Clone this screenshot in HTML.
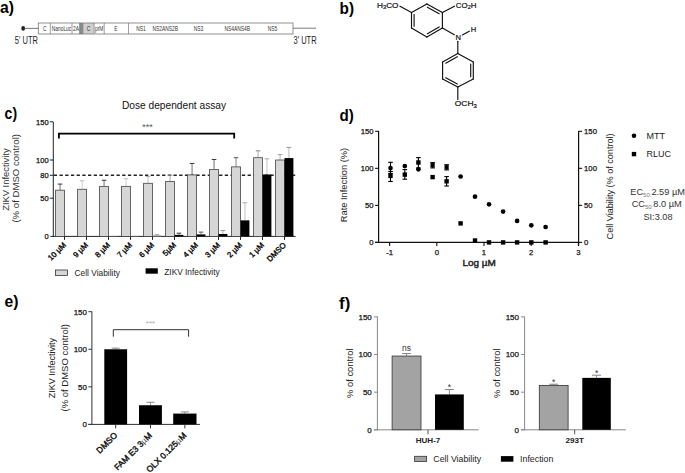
<!DOCTYPE html>
<html><head><meta charset="utf-8"><title>Figure</title>
<style>
html,body{margin:0;padding:0;background:#fff;}
body{width:685px;height:473px;overflow:hidden;font-family:"Liberation Sans",sans-serif;}
svg{display:block;}
svg text{font-family:"Liberation Sans",sans-serif;}
</style></head><body>
<svg width="685" height="473" viewBox="0 0 685 473">
<rect x="0" y="0" width="685" height="473" fill="#fff"/>
<text x="0" y="13.2" font-size="17" font-weight="bold" fill="#000" textLength="14" lengthAdjust="spacingAndGlyphs">a)</text>
<text x="339.6" y="13.6" font-size="17" font-weight="bold" fill="#000" textLength="14.5" lengthAdjust="spacingAndGlyphs">b)</text>
<text x="4.6" y="119.4" font-size="17" font-weight="bold" fill="#000" textLength="12.5" lengthAdjust="spacingAndGlyphs">c)</text>
<text x="339.5" y="121" font-size="17" font-weight="bold" fill="#000" textLength="14.3" lengthAdjust="spacingAndGlyphs">d)</text>
<text x="4.4" y="306.6" font-size="17" font-weight="bold" fill="#000" textLength="14" lengthAdjust="spacingAndGlyphs">e)</text>
<text x="339.1" y="308.6" font-size="17" font-weight="bold" fill="#000" textLength="11.2" lengthAdjust="spacingAndGlyphs">f)</text>
<g id="pa">
<ellipse cx="23.2" cy="28.4" rx="1.9" ry="2.4" fill="#222"/>
<line x1="24" y1="28.4" x2="38.3" y2="28.4" stroke="#555" stroke-width="0.8" />
<line x1="293" y1="28.2" x2="316" y2="28.2" stroke="#555" stroke-width="0.8" />
<rect x="79.60" y="23.00" width="3.30" height="11.00" fill="#8a8a8a" stroke="none" stroke-width="1"/>
<rect x="82.90" y="23.00" width="11.20" height="11.00" fill="#d0d0d0" stroke="none" stroke-width="1"/>
<rect x="38.30" y="23.00" width="254.70" height="11.00" fill="none" stroke="#777" stroke-width="0.8"/>
<line x1="50.3" y1="23" x2="50.3" y2="34" stroke="#777" stroke-width="0.7" />
<line x1="72" y1="23" x2="72" y2="34" stroke="#777" stroke-width="0.7" />
<line x1="79.6" y1="23" x2="79.6" y2="34" stroke="#777" stroke-width="0.7" />
<line x1="82.9" y1="23" x2="82.9" y2="34" stroke="#777" stroke-width="0.7" />
<line x1="94.1" y1="23" x2="94.1" y2="34" stroke="#777" stroke-width="0.7" />
<line x1="104.2" y1="23" x2="104.2" y2="34" stroke="#777" stroke-width="0.7" />
<line x1="128.5" y1="23" x2="128.5" y2="34" stroke="#777" stroke-width="0.7" />
<text transform="translate(44.7,31.4) scale(0.7,1)" font-size="7" text-anchor="middle" fill="#333">C</text>
<text transform="translate(61.5,31.4) scale(0.7,1)" font-size="7" text-anchor="middle" fill="#333">NanoLuc</text>
<text transform="translate(75.9,31.4) scale(0.7,1)" font-size="7" text-anchor="middle" fill="#333">2A</text>
<text transform="translate(88.4,31.4) scale(0.7,1)" font-size="7" text-anchor="middle" fill="#333">C</text>
<text transform="translate(99.2,31.4) scale(0.7,1)" font-size="7" text-anchor="middle" fill="#333">prM</text>
<text transform="translate(116,31.4) scale(0.7,1)" font-size="7" text-anchor="middle" fill="#333">E</text>
<text transform="translate(141,31.4) scale(0.7,1)" font-size="7" text-anchor="middle" fill="#333">NS1</text>
<text transform="translate(165.3,31.4) scale(0.7,1)" font-size="7" text-anchor="middle" fill="#333">NS2ANS2B</text>
<text transform="translate(198.4,31.4) scale(0.7,1)" font-size="7" text-anchor="middle" fill="#333">NS3</text>
<text transform="translate(237.2,31.4) scale(0.7,1)" font-size="7" text-anchor="middle" fill="#333">NS4ANS4B</text>
<text transform="translate(272.5,31.4) scale(0.7,1)" font-size="7" text-anchor="middle" fill="#333">NS5</text>
<text transform="translate(26.4,44) scale(0.75,1)" font-size="10" text-anchor="middle" fill="#222">5' UTR</text>
<text transform="translate(305,44) scale(0.75,1)" font-size="10" text-anchor="middle" fill="#222">3' UTR</text>
</g>
<g id="pb" stroke="#111" stroke-width="1.15" fill="none" stroke-linecap="round">
<line x1="426.90" y1="3.90" x2="442.40" y2="12.60"/>
<line x1="427.36" y1="7.14" x2="439.14" y2="13.75"/>
<line x1="442.40" y1="12.60" x2="442.40" y2="28.00"/>
<line x1="442.40" y1="28.00" x2="426.90" y2="37.10"/>
<line x1="439.15" y1="26.90" x2="427.37" y2="33.81"/>
<line x1="426.90" y1="37.10" x2="411.50" y2="28.00"/>
<line x1="411.50" y1="28.00" x2="411.50" y2="12.60"/>
<line x1="414.10" y1="26.16" x2="414.10" y2="14.46"/>
<line x1="411.50" y1="12.60" x2="426.90" y2="3.90"/>
<line x1="457.80" y1="53.40" x2="473.30" y2="62.00"/>
<line x1="473.30" y1="62.00" x2="473.30" y2="78.90"/>
<line x1="470.70" y1="64.02" x2="470.70" y2="76.86"/>
<line x1="473.30" y1="78.90" x2="457.80" y2="87.10"/>
<line x1="457.80" y1="87.10" x2="442.60" y2="78.90"/>
<line x1="457.33" y1="83.90" x2="445.78" y2="77.66"/>
<line x1="442.60" y1="78.90" x2="442.60" y2="62.00"/>
<line x1="442.60" y1="62.00" x2="457.80" y2="53.40"/>
<line x1="445.77" y1="63.19" x2="457.33" y2="56.65"/>
<line x1="411.5" y1="12.6" x2="400" y2="6.2"/>
<line x1="442.4" y1="12.6" x2="454.5" y2="6.2"/>
<line x1="442.4" y1="28" x2="454.3" y2="34.8"/>
<line x1="462.3" y1="35" x2="469.3" y2="31.2"/>
<line x1="457.8" y1="41.3" x2="457.8" y2="53.4"/>
<line x1="457.8" y1="87.1" x2="457.8" y2="99.5"/>
</g>
<g id="pbt" fill="#111" stroke="#111" stroke-width="0.2">
<text x="377" y="7.9" font-size="7.6" textLength="21.5" lengthAdjust="spacingAndGlyphs">H<tspan font-size="5.4" dy="1.3">3</tspan><tspan dy="-1.3">CO</tspan></text>
<text x="455.8" y="7.6" font-size="7.6" textLength="20.7" lengthAdjust="spacingAndGlyphs">CO<tspan font-size="5.4" dy="1.3">2</tspan><tspan dy="-1.3">H</tspan></text>
<text x="458.3" y="40.2" font-size="7.6" text-anchor="middle">N</text>
<text x="473.4" y="31.6" font-size="7.6" text-anchor="middle">H</text>
<text x="454.8" y="106.4" font-size="7.6" textLength="22" lengthAdjust="spacingAndGlyphs">OCH<tspan font-size="5.4" dy="1.3">3</tspan></text>
</g>
<g id="pc">
<text x="174" y="109.2" font-size="10.2" text-anchor="middle" font-weight="normal" fill="#111" >Dose dependent assay</text>
<line x1="53.3" y1="122" x2="53.3" y2="236.9" stroke="#222" stroke-width="1" />
<line x1="50.3" y1="236.4" x2="295.6" y2="236.4" stroke="#222" stroke-width="1" />
<line x1="49.8" y1="121.8" x2="53.3" y2="121.8" stroke="#222" stroke-width="1" />
<text x="48.599999999999994" y="124.5" font-size="7.5" text-anchor="end" font-weight="normal" fill="#111" stroke="#111" stroke-width="0.25">150</text>
<line x1="49.8" y1="160.0" x2="53.3" y2="160.0" stroke="#222" stroke-width="1" />
<text x="48.599999999999994" y="162.7" font-size="7.5" text-anchor="end" font-weight="normal" fill="#111" stroke="#111" stroke-width="0.25">100</text>
<line x1="49.8" y1="175.28" x2="53.3" y2="175.28" stroke="#222" stroke-width="1" />
<text x="48.599999999999994" y="177.98" font-size="7.5" text-anchor="end" font-weight="normal" fill="#111" stroke="#111" stroke-width="0.25">80</text>
<line x1="49.8" y1="198.2" x2="53.3" y2="198.2" stroke="#222" stroke-width="1" />
<text x="48.599999999999994" y="200.89999999999998" font-size="7.5" text-anchor="end" font-weight="normal" fill="#111" stroke="#111" stroke-width="0.25">50</text>
<text x="48.599999999999994" y="239.1" font-size="7.5" text-anchor="end" font-weight="normal" fill="#111" stroke="#111" stroke-width="0.25">0</text>
<line x1="53.8" y1="175.28" x2="295.2" y2="175.28" stroke="#222" stroke-width="1.4" stroke-dasharray="3.3 2.4"/>
<line x1="60.05" y1="190.178" x2="60.05" y2="184.066" stroke="#333" stroke-width="0.7" />
<line x1="57.75" y1="184.066" x2="62.349999999999994" y2="184.066" stroke="#333" stroke-width="1" />
<rect x="55.60" y="190.18" width="8.90" height="46.22" fill="#d6d6d6" stroke="#444" stroke-width="0.8"/>
<line x1="64.5" y1="236.4" x2="64.5" y2="239.9" stroke="#222" stroke-width="1" />
<text transform="translate(66.5,245.6) rotate(-45)" font-size="7.8" text-anchor="end" fill="#111" stroke="#111" stroke-width="0.4">10 µM</text>
<line x1="82.05" y1="189.2612" x2="82.05" y2="180.8572" stroke="#bbb" stroke-width="0.7" />
<line x1="79.75" y1="180.8572" x2="84.35" y2="180.8572" stroke="#bbb" stroke-width="1" />
<rect x="77.60" y="189.26" width="8.90" height="47.14" fill="#d6d6d6" stroke="#444" stroke-width="0.8"/>
<line x1="86.5" y1="236.4" x2="86.5" y2="239.9" stroke="#222" stroke-width="1" />
<text transform="translate(88.5,245.6) rotate(-45)" font-size="7.8" text-anchor="end" fill="#111" stroke="#111" stroke-width="0.4">9 µM</text>
<line x1="104.05" y1="186.358" x2="104.05" y2="180.246" stroke="#333" stroke-width="0.7" />
<line x1="101.75" y1="180.246" x2="106.35" y2="180.246" stroke="#333" stroke-width="1" />
<rect x="99.60" y="186.36" width="8.90" height="50.04" fill="#d6d6d6" stroke="#444" stroke-width="0.8"/>
<rect x="108.50" y="236.09" width="8.90" height="0.31" fill="#999" stroke="none" stroke-width="1"/>
<line x1="108.5" y1="236.4" x2="108.5" y2="239.9" stroke="#222" stroke-width="1" />
<text transform="translate(110.5,245.6) rotate(-45)" font-size="7.8" text-anchor="end" fill="#111" stroke="#111" stroke-width="0.4">8 µM</text>
<line x1="126.05" y1="186.358" x2="126.05" y2="178.71800000000002" stroke="#bbb" stroke-width="0.7" />
<line x1="123.75" y1="178.71800000000002" x2="128.35" y2="178.71800000000002" stroke="#bbb" stroke-width="1" />
<rect x="121.60" y="186.36" width="8.90" height="50.04" fill="#d6d6d6" stroke="#444" stroke-width="0.8"/>
<rect x="130.50" y="236.09" width="8.90" height="0.31" fill="#999" stroke="none" stroke-width="1"/>
<line x1="130.5" y1="236.4" x2="130.5" y2="239.9" stroke="#222" stroke-width="1" />
<text transform="translate(132.5,245.6) rotate(-45)" font-size="7.8" text-anchor="end" fill="#111" stroke="#111" stroke-width="0.4">7 µM</text>
<line x1="148.05" y1="183.30200000000002" x2="148.05" y2="176.426" stroke="#aaa" stroke-width="0.7" />
<line x1="145.75" y1="176.426" x2="150.35000000000002" y2="176.426" stroke="#aaa" stroke-width="1" />
<line x1="156.95" y1="235.4832" x2="156.95" y2="234.56640000000002" stroke="#aaa" stroke-width="0.7" />
<line x1="154.64999999999998" y1="234.56640000000002" x2="159.25" y2="234.56640000000002" stroke="#aaa" stroke-width="1" />
<rect x="143.60" y="183.30" width="8.90" height="53.10" fill="#d6d6d6" stroke="#444" stroke-width="0.8"/>
<rect x="152.50" y="235.48" width="8.90" height="0.92" fill="#999" stroke="none" stroke-width="1"/>
<line x1="152.5" y1="236.4" x2="152.5" y2="239.9" stroke="#222" stroke-width="1" />
<text transform="translate(154.5,245.6) rotate(-45)" font-size="7.8" text-anchor="end" fill="#111" stroke="#111" stroke-width="0.4">6 µM</text>
<line x1="170.05" y1="181.392" x2="170.05" y2="175.28" stroke="#888" stroke-width="0.7" />
<line x1="167.75" y1="175.28" x2="172.35000000000002" y2="175.28" stroke="#888" stroke-width="1" />
<line x1="178.95" y1="234.872" x2="178.95" y2="233.1912" stroke="#333" stroke-width="0.7" />
<line x1="176.64999999999998" y1="233.1912" x2="181.25" y2="233.1912" stroke="#333" stroke-width="1" />
<rect x="165.60" y="181.39" width="8.90" height="55.01" fill="#d6d6d6" stroke="#444" stroke-width="0.8"/>
<rect x="174.50" y="234.87" width="8.90" height="1.53" fill="#000" stroke="none" stroke-width="1"/>
<line x1="174.5" y1="236.4" x2="174.5" y2="239.9" stroke="#222" stroke-width="1" />
<text transform="translate(176.5,245.6) rotate(-45)" font-size="7.8" text-anchor="end" fill="#111" stroke="#111" stroke-width="0.4">5µM</text>
<line x1="192.05" y1="174.898" x2="192.05" y2="163.438" stroke="#333" stroke-width="0.7" />
<line x1="189.75" y1="163.438" x2="194.35000000000002" y2="163.438" stroke="#333" stroke-width="1" />
<line x1="200.95" y1="234.4136" x2="200.95" y2="232.1216" stroke="#555" stroke-width="0.7" />
<line x1="198.64999999999998" y1="232.1216" x2="203.25" y2="232.1216" stroke="#555" stroke-width="1" />
<rect x="187.60" y="174.90" width="8.90" height="61.50" fill="#d6d6d6" stroke="#444" stroke-width="0.8"/>
<rect x="196.50" y="234.41" width="8.90" height="1.99" fill="#000" stroke="none" stroke-width="1"/>
<line x1="196.5" y1="236.4" x2="196.5" y2="239.9" stroke="#222" stroke-width="1" />
<text transform="translate(198.5,245.6) rotate(-45)" font-size="7.8" text-anchor="end" fill="#111" stroke="#111" stroke-width="0.4">4 µM</text>
<line x1="214.05" y1="169.3972" x2="214.05" y2="159.46519999999998" stroke="#333" stroke-width="0.7" />
<line x1="211.75" y1="159.46519999999998" x2="216.35000000000002" y2="159.46519999999998" stroke="#333" stroke-width="1" />
<line x1="222.95" y1="233.95520000000002" x2="222.95" y2="230.5172" stroke="#999" stroke-width="0.7" />
<line x1="220.64999999999998" y1="230.5172" x2="225.25" y2="230.5172" stroke="#999" stroke-width="1" />
<rect x="209.60" y="169.40" width="8.90" height="67.00" fill="#d6d6d6" stroke="#444" stroke-width="0.8"/>
<rect x="218.50" y="233.96" width="8.90" height="2.44" fill="#000" stroke="none" stroke-width="1"/>
<line x1="218.5" y1="236.4" x2="218.5" y2="239.9" stroke="#222" stroke-width="1" />
<text transform="translate(220.5,245.6) rotate(-45)" font-size="7.8" text-anchor="end" fill="#111" stroke="#111" stroke-width="0.4">3 µM</text>
<line x1="236.05" y1="166.876" x2="236.05" y2="157.708" stroke="#555" stroke-width="0.7" />
<line x1="233.75" y1="157.708" x2="238.35000000000002" y2="157.708" stroke="#555" stroke-width="1" />
<line x1="244.95" y1="220.356" x2="244.95" y2="202.784" stroke="#aaa" stroke-width="0.7" />
<line x1="242.64999999999998" y1="202.784" x2="247.25" y2="202.784" stroke="#aaa" stroke-width="1" />
<rect x="231.60" y="166.88" width="8.90" height="69.52" fill="#d6d6d6" stroke="#444" stroke-width="0.8"/>
<rect x="240.50" y="220.36" width="8.90" height="16.04" fill="#000" stroke="none" stroke-width="1"/>
<line x1="240.5" y1="236.4" x2="240.5" y2="239.9" stroke="#222" stroke-width="1" />
<text transform="translate(242.5,245.6) rotate(-45)" font-size="7.8" text-anchor="end" fill="#111" stroke="#111" stroke-width="0.4">2 µM</text>
<line x1="258.05" y1="157.708" x2="258.05" y2="150.832" stroke="#888" stroke-width="0.7" />
<line x1="255.75" y1="150.832" x2="260.35" y2="150.832" stroke="#888" stroke-width="1" />
<line x1="266.95" y1="174.51600000000002" x2="266.95" y2="158.85399999999998" stroke="#aaa" stroke-width="0.7" />
<line x1="264.65" y1="158.85399999999998" x2="269.25" y2="158.85399999999998" stroke="#aaa" stroke-width="1" />
<rect x="253.60" y="157.71" width="8.90" height="78.69" fill="#d6d6d6" stroke="#444" stroke-width="0.8"/>
<rect x="262.50" y="174.52" width="8.90" height="61.88" fill="#000" stroke="none" stroke-width="1"/>
<line x1="262.5" y1="236.4" x2="262.5" y2="239.9" stroke="#222" stroke-width="1" />
<text transform="translate(264.5,245.6) rotate(-45)" font-size="7.8" text-anchor="end" fill="#111" stroke="#111" stroke-width="0.4">1 µM</text>
<line x1="280.05" y1="160.0" x2="280.05" y2="154.652" stroke="#999" stroke-width="0.7" />
<line x1="277.75" y1="154.652" x2="282.35" y2="154.652" stroke="#999" stroke-width="1" />
<line x1="288.95" y1="158.09" x2="288.95" y2="147.394" stroke="#999" stroke-width="0.7" />
<line x1="286.65" y1="147.394" x2="291.25" y2="147.394" stroke="#999" stroke-width="1" />
<rect x="275.60" y="160.00" width="8.90" height="76.40" fill="#d6d6d6" stroke="#444" stroke-width="0.8"/>
<rect x="284.50" y="158.09" width="8.90" height="78.31" fill="#000" stroke="none" stroke-width="1"/>
<line x1="284.5" y1="236.4" x2="284.5" y2="239.9" stroke="#222" stroke-width="1" />
<text transform="translate(286.5,245.6) rotate(-45)" font-size="7.8" text-anchor="end" fill="#111" stroke="#111" stroke-width="0.4">DMSO</text>
<path d="M58.9 138.4 V133.6 H234.2 V138.4" fill="none" stroke="#000" stroke-width="1.8"/>
<text x="147.6" y="130.2" font-size="9" text-anchor="middle" font-weight="normal" fill="#555" >***</text>
<rect x="55.50" y="270.00" width="12.00" height="5.40" fill="#d6d6d6" stroke="#333" stroke-width="0.8"/>
<text x="74.6" y="275.5" font-size="8.35" text-anchor="start" font-weight="normal" fill="#222" >Cell Viability</text>
<rect x="145.60" y="268.30" width="12.20" height="5.40" fill="#000" stroke="none" stroke-width="1"/>
<text x="164.3" y="275.2" font-size="8.3" text-anchor="start" font-weight="normal" fill="#222" >ZIKV Infectivity</text>
<text transform="translate(8.8,210.8) rotate(-90)" font-size="8.8" textLength="62.4" lengthAdjust="spacingAndGlyphs" fill="#333">ZIKV Infectivity</text>
<text transform="translate(19.2,222.6) rotate(-90)" font-size="8.8" textLength="88.6" lengthAdjust="spacingAndGlyphs" fill="#333">(% of DMSO control)</text>
</g>
<g id="pd">
<line x1="378.6" y1="131" x2="378.6" y2="242.9" stroke="#111" stroke-width="1.2" />
<line x1="578.6" y1="131" x2="578.6" y2="245.9" stroke="#111" stroke-width="1.2" />
<line x1="375.1" y1="242.4" x2="578.6" y2="242.4" stroke="#111" stroke-width="1.2" />
<line x1="375.1" y1="131.3" x2="378.6" y2="131.3" stroke="#111" stroke-width="1.1" />
<line x1="578.6" y1="131.3" x2="582.1" y2="131.3" stroke="#111" stroke-width="1.1" />
<text x="373.6" y="134.05" font-size="7.7" text-anchor="end" font-weight="normal" fill="#111" stroke="#111" stroke-width="0.25">150</text>
<text x="584.1" y="134.05" font-size="7.7" text-anchor="start" font-weight="normal" fill="#111" stroke="#111" stroke-width="0.25">150</text>
<line x1="375.1" y1="168.33333333333334" x2="378.6" y2="168.33333333333334" stroke="#111" stroke-width="1.1" />
<line x1="578.6" y1="168.33333333333334" x2="582.1" y2="168.33333333333334" stroke="#111" stroke-width="1.1" />
<text x="373.6" y="171.08333333333334" font-size="7.7" text-anchor="end" font-weight="normal" fill="#111" stroke="#111" stroke-width="0.25">100</text>
<text x="584.1" y="171.08333333333334" font-size="7.7" text-anchor="start" font-weight="normal" fill="#111" stroke="#111" stroke-width="0.25">100</text>
<line x1="375.1" y1="205.36666666666667" x2="378.6" y2="205.36666666666667" stroke="#111" stroke-width="1.1" />
<line x1="578.6" y1="205.36666666666667" x2="582.1" y2="205.36666666666667" stroke="#111" stroke-width="1.1" />
<text x="373.6" y="208.11666666666667" font-size="7.7" text-anchor="end" font-weight="normal" fill="#111" stroke="#111" stroke-width="0.25">50</text>
<text x="584.1" y="208.11666666666667" font-size="7.7" text-anchor="start" font-weight="normal" fill="#111" stroke="#111" stroke-width="0.25">50</text>
<line x1="375.1" y1="242.4" x2="378.6" y2="242.4" stroke="#111" stroke-width="1.1" />
<line x1="578.6" y1="242.4" x2="582.1" y2="242.4" stroke="#111" stroke-width="1.1" />
<text x="373.6" y="245.15" font-size="7.7" text-anchor="end" font-weight="normal" fill="#111" stroke="#111" stroke-width="0.25">0</text>
<text x="584.1" y="245.15" font-size="7.7" text-anchor="start" font-weight="normal" fill="#111" stroke="#111" stroke-width="0.25">0</text>
<line x1="389.6" y1="242.4" x2="389.6" y2="245.9" stroke="#111" stroke-width="1.1" />
<text x="389.6" y="254.70000000000002" font-size="7.7" text-anchor="middle" font-weight="normal" fill="#111" stroke="#111" stroke-width="0.25">-1</text>
<line x1="436.8" y1="242.4" x2="436.8" y2="245.9" stroke="#111" stroke-width="1.1" />
<text x="436.8" y="254.70000000000002" font-size="7.7" text-anchor="middle" font-weight="normal" fill="#111" stroke="#111" stroke-width="0.25">0</text>
<line x1="484.0" y1="242.4" x2="484.0" y2="245.9" stroke="#111" stroke-width="1.1" />
<text x="484.0" y="254.70000000000002" font-size="7.7" text-anchor="middle" font-weight="normal" fill="#111" stroke="#111" stroke-width="0.25">1</text>
<line x1="531.2" y1="242.4" x2="531.2" y2="245.9" stroke="#111" stroke-width="1.1" />
<text x="531.2" y="254.70000000000002" font-size="7.7" text-anchor="middle" font-weight="normal" fill="#111" stroke="#111" stroke-width="0.25">2</text>
<line x1="578.4000000000001" y1="242.4" x2="578.4000000000001" y2="245.9" stroke="#111" stroke-width="1.1" />
<text x="578.4000000000001" y="254.70000000000002" font-size="7.7" text-anchor="middle" font-weight="normal" fill="#111" stroke="#111" stroke-width="0.25">3</text>
<text x="462.4" y="266.4" font-size="8.8" textLength="33.4" lengthAdjust="spacingAndGlyphs" fill="#222" stroke="#222" stroke-width="0.4">Log µM</text>
<text transform="translate(347.2,222.2) rotate(-90)" font-size="8.8" textLength="74.4" lengthAdjust="spacingAndGlyphs" fill="#222">Rate Infection (%)</text>
<text transform="translate(613.3,239.4) rotate(-90)" font-size="8.8" textLength="106" lengthAdjust="spacingAndGlyphs" fill="#222">Cell Viability (% of control)</text>
<line x1="390.5" y1="162.3" x2="390.5" y2="173.5" stroke="#000" stroke-width="1.1" />
<line x1="388.2" y1="162.3" x2="392.8" y2="162.3" stroke="#000" stroke-width="1.1" />
<line x1="388.2" y1="173.5" x2="392.8" y2="173.5" stroke="#000" stroke-width="1.1" />
<line x1="390.5" y1="171.5" x2="390.5" y2="181.5" stroke="#000" stroke-width="1.1" />
<line x1="388.2" y1="171.5" x2="392.8" y2="171.5" stroke="#000" stroke-width="1.1" />
<line x1="388.2" y1="181.5" x2="392.8" y2="181.5" stroke="#000" stroke-width="1.1" />
<line x1="404.8" y1="169.6" x2="404.8" y2="179.2" stroke="#000" stroke-width="1.1" />
<line x1="402.5" y1="169.6" x2="407.1" y2="169.6" stroke="#000" stroke-width="1.1" />
<line x1="402.5" y1="179.2" x2="407.1" y2="179.2" stroke="#000" stroke-width="1.1" />
<line x1="418.4" y1="157.6" x2="418.4" y2="168" stroke="#000" stroke-width="1.1" />
<line x1="416.09999999999997" y1="157.6" x2="420.7" y2="157.6" stroke="#000" stroke-width="1.1" />
<line x1="416.09999999999997" y1="168" x2="420.7" y2="168" stroke="#000" stroke-width="1.1" />
<line x1="432.6" y1="162.6" x2="432.6" y2="167.9" stroke="#000" stroke-width="1.1" />
<line x1="430.3" y1="162.6" x2="434.90000000000003" y2="162.6" stroke="#000" stroke-width="1.1" />
<line x1="430.3" y1="167.9" x2="434.90000000000003" y2="167.9" stroke="#000" stroke-width="1.1" />
<line x1="446.6" y1="164.7" x2="446.6" y2="169.9" stroke="#000" stroke-width="1.1" />
<line x1="444.3" y1="164.7" x2="448.90000000000003" y2="164.7" stroke="#000" stroke-width="1.1" />
<line x1="444.3" y1="169.9" x2="448.90000000000003" y2="169.9" stroke="#000" stroke-width="1.1" />
<line x1="446.6" y1="176.6" x2="446.6" y2="186" stroke="#000" stroke-width="1.1" />
<line x1="444.3" y1="176.6" x2="448.90000000000003" y2="176.6" stroke="#000" stroke-width="1.1" />
<line x1="444.3" y1="186" x2="448.90000000000003" y2="186" stroke="#000" stroke-width="1.1" />
<circle cx="390.5" cy="168.1" r="2.35" fill="#000"/>
<rect x="388.30" y="173.70" width="4.40" height="4.40" fill="#000" stroke="none" stroke-width="1"/>
<circle cx="404.8" cy="166.1" r="2.35" fill="#000"/>
<rect x="402.60" y="172.40" width="4.40" height="4.40" fill="#000" stroke="none" stroke-width="1"/>
<circle cx="418.4" cy="169.3" r="2.35" fill="#000"/>
<rect x="416.20" y="160.30" width="4.40" height="4.40" fill="#000" stroke="none" stroke-width="1"/>
<rect x="430.50" y="163.10" width="4.20" height="4.20" fill="#000" stroke="none" stroke-width="1"/>
<rect x="430.40" y="174.90" width="4.40" height="4.40" fill="#000" stroke="none" stroke-width="1"/>
<rect x="444.50" y="165.20" width="4.20" height="4.20" fill="#000" stroke="none" stroke-width="1"/>
<rect x="444.40" y="179.10" width="4.40" height="4.40" fill="#000" stroke="none" stroke-width="1"/>
<circle cx="460.6" cy="176.5" r="2.35" fill="#000"/>
<rect x="458.40" y="221.20" width="4.40" height="4.40" fill="#000" stroke="none" stroke-width="1"/>
<circle cx="475" cy="196.7" r="2.35" fill="#000"/>
<rect x="472.80" y="238.30" width="4.40" height="4.40" fill="#000" stroke="none" stroke-width="1"/>
<circle cx="489" cy="204.3" r="2.35" fill="#000"/>
<rect x="486.80" y="240.20" width="4.40" height="4.40" fill="#000" stroke="none" stroke-width="1"/>
<circle cx="503.1" cy="211.6" r="2.35" fill="#000"/>
<rect x="500.90" y="240.20" width="4.40" height="4.40" fill="#000" stroke="none" stroke-width="1"/>
<circle cx="517.1" cy="220.9" r="2.35" fill="#000"/>
<rect x="514.90" y="240.20" width="4.40" height="4.40" fill="#000" stroke="none" stroke-width="1"/>
<circle cx="531.3" cy="225.3" r="2.35" fill="#000"/>
<rect x="529.10" y="240.20" width="4.40" height="4.40" fill="#000" stroke="none" stroke-width="1"/>
<circle cx="545.6" cy="227" r="2.35" fill="#000"/>
<rect x="543.40" y="240.20" width="4.40" height="4.40" fill="#000" stroke="none" stroke-width="1"/>
<circle cx="634" cy="135.7" r="2.3" fill="#000"/>
<text x="646.5" y="139" font-size="9" text-anchor="start" font-weight="normal" fill="#222" >MTT</text>
<rect x="631.80" y="151.90" width="4.40" height="4.40" fill="#000" stroke="none" stroke-width="1"/>
<text x="646.5" y="157.4" font-size="9" text-anchor="start" font-weight="normal" fill="#222" >RLUC</text>
<text x="657.6" y="195.3" font-size="9.2" text-anchor="middle" fill="#333">EC<tspan font-size="6" dy="1.5" fill="#777">50:</tspan><tspan dy="-1.5">2.59 µM</tspan></text>
<text x="656.7" y="207.2" font-size="9.2" text-anchor="middle" fill="#333">CC<tspan font-size="6" dy="1.5" fill="#777">50:</tspan><tspan dy="-1.5">8.0 µM</tspan></text>
<text x="658" y="219.5" font-size="9.2" text-anchor="middle" font-weight="normal" fill="#333" >SI:3.08</text>
</g>
<g id="pe">
<line x1="91.9" y1="311.5" x2="91.9" y2="424.9" stroke="#333" stroke-width="1" />
<line x1="88.4" y1="424.4" x2="200" y2="424.4" stroke="#333" stroke-width="1" />
<line x1="88.4" y1="311.7" x2="91.9" y2="311.7" stroke="#333" stroke-width="1" />
<text x="86.9" y="314.5" font-size="7.9" text-anchor="end" font-weight="normal" fill="#111" stroke="#111" stroke-width="0.25">150</text>
<line x1="88.4" y1="349.26666666666665" x2="91.9" y2="349.26666666666665" stroke="#333" stroke-width="1" />
<text x="86.9" y="352.06666666666666" font-size="7.9" text-anchor="end" font-weight="normal" fill="#111" stroke="#111" stroke-width="0.25">100</text>
<line x1="88.4" y1="386.8333333333333" x2="91.9" y2="386.8333333333333" stroke="#333" stroke-width="1" />
<text x="86.9" y="389.6333333333333" font-size="7.9" text-anchor="end" font-weight="normal" fill="#111" stroke="#111" stroke-width="0.25">50</text>
<line x1="88.4" y1="424.4" x2="91.9" y2="424.4" stroke="#333" stroke-width="1" />
<text x="86.9" y="427.2" font-size="7.9" text-anchor="end" font-weight="normal" fill="#111" stroke="#111" stroke-width="0.25">0</text>
<line x1="115.69999999999999" y1="349.26666666666665" x2="115.69999999999999" y2="348.13966666666664" stroke="#777" stroke-width="0.8" />
<line x1="111.69999999999999" y1="348.13966666666664" x2="119.69999999999999" y2="348.13966666666664" stroke="#777" stroke-width="0.9" />
<rect x="104.30" y="349.27" width="22.80" height="75.13" fill="#000" stroke="none" stroke-width="1"/>
<line x1="115.69999999999999" y1="424.4" x2="115.69999999999999" y2="428.4" stroke="#333" stroke-width="1" />
<text transform="translate(117.9,435.9) rotate(-45)" font-size="8.5" text-anchor="end" fill="#111" stroke="#111" stroke-width="0.4">DMSO</text>
<line x1="150.45" y1="405.241" x2="150.45" y2="402.23566666666665" stroke="#777" stroke-width="0.8" />
<line x1="146.45" y1="402.23566666666665" x2="154.45" y2="402.23566666666665" stroke="#777" stroke-width="0.9" />
<rect x="139.00" y="405.24" width="22.90" height="19.16" fill="#000" stroke="none" stroke-width="1"/>
<line x1="150.45" y1="424.4" x2="150.45" y2="428.4" stroke="#333" stroke-width="1" />
<text transform="translate(152.6,435.9) rotate(-45)" font-size="8.5" text-anchor="end" fill="#111" stroke="#111" stroke-width="0.4">FAM E3 3<tspan stroke="none" fill="#444">µ</tspan>M</text>
<line x1="184.85" y1="413.58079999999995" x2="184.85" y2="411.92786666666666" stroke="#777" stroke-width="0.8" />
<line x1="180.85" y1="411.92786666666666" x2="188.85" y2="411.92786666666666" stroke="#777" stroke-width="0.9" />
<rect x="173.20" y="413.58" width="23.30" height="10.82" fill="#000" stroke="none" stroke-width="1"/>
<line x1="184.85" y1="424.4" x2="184.85" y2="428.4" stroke="#333" stroke-width="1" />
<text transform="translate(187.0,435.9) rotate(-45)" font-size="8.5" text-anchor="end" fill="#111" stroke="#111" stroke-width="0.4">OLX 0.125<tspan stroke="none" fill="#444">µ</tspan>M</text>
<path d="M113.3 336.7 V329.7 H188.6 V336.7" fill="none" stroke="#333" stroke-width="1"/>
<text x="150.5" y="326.3" font-size="8" text-anchor="middle" font-weight="normal" fill="#aaa" >***</text>
<text transform="translate(55.3,398.3) rotate(-90)" font-size="8.8" textLength="60.4" lengthAdjust="spacingAndGlyphs" fill="#222">ZIKV Infectivity</text>
<text transform="translate(67.6,411.4) rotate(-90)" font-size="8.8" textLength="87.4" lengthAdjust="spacingAndGlyphs" fill="#222">(% of DMSO control)</text>
</g>
<g id="pf">
<line x1="377.4" y1="316.5" x2="377.4" y2="430.3" stroke="#888" stroke-width="1" />
<line x1="373.9" y1="429.8" x2="478.5" y2="429.8" stroke="#888" stroke-width="1" />
<line x1="373.9" y1="316.9" x2="377.4" y2="316.9" stroke="#888" stroke-width="1" />
<text x="371.79999999999995" y="319.75" font-size="8" text-anchor="end" font-weight="normal" fill="#111" stroke="#111" stroke-width="0.25">150</text>
<line x1="373.9" y1="354.5333333333333" x2="377.4" y2="354.5333333333333" stroke="#888" stroke-width="1" />
<text x="371.79999999999995" y="357.3833333333333" font-size="8" text-anchor="end" font-weight="normal" fill="#111" stroke="#111" stroke-width="0.25">100</text>
<line x1="373.9" y1="392.1666666666667" x2="377.4" y2="392.1666666666667" stroke="#888" stroke-width="1" />
<text x="371.79999999999995" y="395.0166666666667" font-size="8" text-anchor="end" font-weight="normal" fill="#111" stroke="#111" stroke-width="0.25">50</text>
<line x1="373.9" y1="429.8" x2="377.4" y2="429.8" stroke="#888" stroke-width="1" />
<text x="371.79999999999995" y="432.65000000000003" font-size="8" text-anchor="end" font-weight="normal" fill="#111" stroke="#111" stroke-width="0.25">0</text>
<line x1="428" y1="429.8" x2="428" y2="434.3" stroke="#555" stroke-width="1" />
<text x="428" y="443.3" font-size="8.1" text-anchor="middle" font-weight="bold" fill="#222" >HUH-7</text>
<line x1="406.55" y1="356.03866666666664" x2="406.55" y2="353.55486666666667" stroke="#777" stroke-width="0.8" />
<line x1="402.05" y1="353.55486666666667" x2="411.05" y2="353.55486666666667" stroke="#777" stroke-width="0.9" />
<rect x="392.10" y="356.04" width="28.90" height="73.76" fill="#a3a3a3" stroke="#333" stroke-width="0.8"/>
<text x="406.55" y="351.3548666666667" font-size="8.5" text-anchor="middle" font-weight="normal" fill="#333" >ns</text>
<line x1="449.4" y1="394.42466666666667" x2="449.4" y2="389.5323333333333" stroke="#777" stroke-width="0.8" />
<line x1="444.9" y1="389.5323333333333" x2="453.9" y2="389.5323333333333" stroke="#777" stroke-width="0.9" />
<rect x="435.00" y="394.42" width="28.80" height="35.38" fill="#000" stroke="none" stroke-width="1"/>
<text x="449.4" y="390.13233333333335" font-size="8.5" text-anchor="middle" font-weight="normal" fill="#333" >*</text>
<text transform="translate(353.0,397.9) rotate(-90)" font-size="9" textLength="49.4" lengthAdjust="spacingAndGlyphs" fill="#222">% of control</text>
<line x1="524.6" y1="316.5" x2="524.6" y2="430.3" stroke="#888" stroke-width="1" />
<line x1="521.1" y1="429.8" x2="625.8" y2="429.8" stroke="#888" stroke-width="1" />
<line x1="521.1" y1="316.9" x2="524.6" y2="316.9" stroke="#888" stroke-width="1" />
<text x="519.0" y="319.75" font-size="8" text-anchor="end" font-weight="normal" fill="#111" stroke="#111" stroke-width="0.25">150</text>
<line x1="521.1" y1="354.5333333333333" x2="524.6" y2="354.5333333333333" stroke="#888" stroke-width="1" />
<text x="519.0" y="357.3833333333333" font-size="8" text-anchor="end" font-weight="normal" fill="#111" stroke="#111" stroke-width="0.25">100</text>
<line x1="521.1" y1="392.1666666666667" x2="524.6" y2="392.1666666666667" stroke="#888" stroke-width="1" />
<text x="519.0" y="395.0166666666667" font-size="8" text-anchor="end" font-weight="normal" fill="#111" stroke="#111" stroke-width="0.25">50</text>
<line x1="521.1" y1="429.8" x2="524.6" y2="429.8" stroke="#888" stroke-width="1" />
<text x="519.0" y="432.65000000000003" font-size="8" text-anchor="end" font-weight="normal" fill="#111" stroke="#111" stroke-width="0.25">0</text>
<line x1="574.7" y1="429.8" x2="574.7" y2="434.3" stroke="#555" stroke-width="1" />
<text x="574.7" y="443.3" font-size="8.1" text-anchor="middle" font-weight="bold" fill="#222" >293T</text>
<line x1="553.7" y1="385.3926666666667" x2="553.7" y2="384.26366666666667" stroke="#777" stroke-width="0.8" />
<line x1="549.2" y1="384.26366666666667" x2="558.2" y2="384.26366666666667" stroke="#777" stroke-width="0.9" />
<rect x="539.30" y="385.39" width="28.80" height="44.41" fill="#a3a3a3" stroke="#333" stroke-width="0.8"/>
<text x="553.7" y="384.8636666666667" font-size="8.5" text-anchor="middle" font-weight="normal" fill="#333" >*</text>
<line x1="596.55" y1="377.866" x2="596.55" y2="375.2316666666667" stroke="#777" stroke-width="0.8" />
<line x1="592.05" y1="375.2316666666667" x2="601.05" y2="375.2316666666667" stroke="#777" stroke-width="0.9" />
<rect x="582.30" y="377.87" width="28.50" height="51.93" fill="#000" stroke="none" stroke-width="1"/>
<text x="596.55" y="375.8316666666667" font-size="8.5" text-anchor="middle" font-weight="normal" fill="#333" >*</text>
<text transform="translate(500.2,397.9) rotate(-90)" font-size="9" textLength="49.4" lengthAdjust="spacingAndGlyphs" fill="#222">% of control</text>
<rect x="414.60" y="456.30" width="12.00" height="5.20" fill="#a3a3a3" stroke="#333" stroke-width="0.8"/>
<text x="433.3" y="462" font-size="8.8" text-anchor="start" font-weight="normal" fill="#222" >Cell Viability</text>
<rect x="500.90" y="456.10" width="12.50" height="5.60" fill="#000" stroke="none" stroke-width="1"/>
<text x="520.1" y="462" font-size="8.8" text-anchor="start" font-weight="normal" fill="#222" >Infection</text>
</g>
</svg>
</body></html>
